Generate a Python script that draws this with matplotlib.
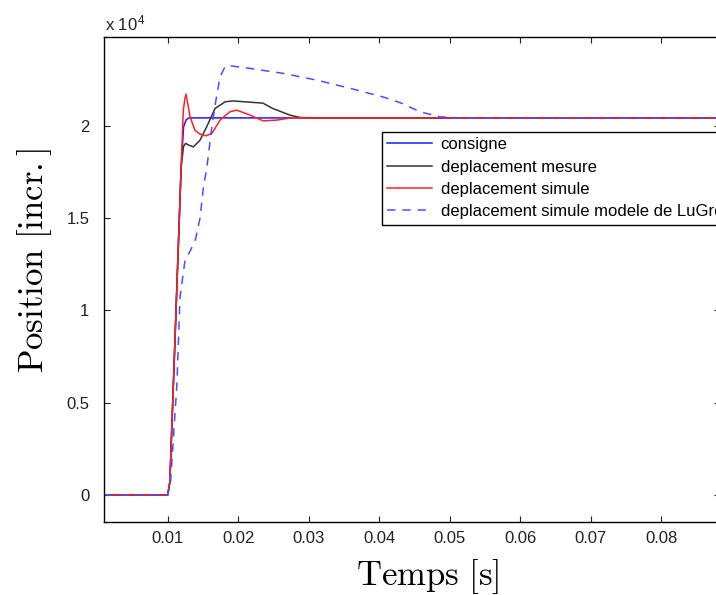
import matplotlib
matplotlib.use("Agg")
import matplotlib.pyplot as plt

plt.rcParams['font.family'] = ['Liberation Sans', 'DejaVu Sans']
plt.rcParams['mathtext.fontset'] = 'cm'

# consigne (setpoint)
t_cons = [0.001, 0.0100, 0.0103, 0.0110, 0.0119, 0.01225, 0.0126, 0.0130, 0.0885]
y_cons = [0, 0, 700, 8100, 17750, 19950, 20320, 20430, 20430]

# deplacement mesure (measured)
t_mes = [0.001, 0.0100, 0.0103, 0.0110, 0.0119, 0.01225, 0.01255, 0.0130, 0.01363,
         0.01458, 0.01553, 0.01671, 0.01813, 0.0192, 0.0210, 0.0235, 0.0249,
         0.02735, 0.0288, 0.0320, 0.0885]
y_mes = [0, 0, 700, 8100, 17750, 18900, 19050, 18950, 18860,
         19220, 19950, 20940, 21300, 21350, 21300, 21230, 20940,
         20580, 20450, 20430, 20430]

# deplacement simule (simulated)
t_sim = [0.001, 0.0100, 0.0103, 0.0110, 0.01189, 0.01221, 0.01245, 0.0126, 0.01284,
         0.01316, 0.01387, 0.01458, 0.01543, 0.01628, 0.01742, 0.0188, 0.01979,
         0.0217, 0.02352, 0.02546, 0.02777, 0.0300, 0.0885]
y_sim = [0, 0, 700, 8100, 17600, 20850, 21500, 21720, 21200,
         20500, 19750, 19550, 19460, 19600, 20310, 20760, 20850,
         20580, 20270, 20310, 20450, 20430, 20430]

# deplacement simule modele de LuGre
t_lug = [0.001, 0.0100, 0.0104, 0.0113, 0.01174, 0.01245, 0.01316, 0.01394, 0.01458,
         0.01508, 0.01557, 0.01614, 0.01671, 0.01742, 0.01813, 0.01855, 0.0217,
         0.0264, 0.0311, 0.0359, 0.0405, 0.0430, 0.0458, 0.0486, 0.0515, 0.0885]
y_lug = [0, 0, 700, 6000, 10700, 12710, 13200, 13850, 15000,
         16700, 17800, 19600, 21100, 22660, 23200, 23270, 23110,
         22840, 22480, 22030, 21570, 21250, 20760, 20490, 20430, 20430]

fig = plt.figure(figsize=(7.16, 5.95), dpi=100)
ax = fig.add_axes([104 / 716, 73.3 / 595, 616 / 716, 485 / 595])

ax.plot(t_cons, y_cons, color='#1a1aff', lw=1.1, label='consigne')
ax.plot(t_mes, y_mes, color='#333333', lw=1.1, label='deplacement mesure')
ax.plot(t_sim, y_sim, color='#ff2020', lw=1.1, label='deplacement simule')
ax.plot(t_lug, y_lug, color='#4d4dff', lw=1.1, dashes=(5.5, 4.5),
        label='deplacement simule modele de LuGre')

ax.set_xlim(0.00096, 0.08834)
ax.set_ylim(-1450, 24830)
ax.set_xticks([0.01, 0.02, 0.03, 0.04, 0.05, 0.06, 0.07, 0.08])
ax.set_xticklabels(['0.01', '0.02', '0.03', '0.04', '0.05', '0.06', '0.07', '0.08'])
ax.set_yticks([0, 5000, 10000, 15000, 20000])
ax.set_yticklabels(['0', '0.5', '1', '1.5', '2'])
ax.tick_params(direction='in', length=4.5, width=0.8, top=True, right=True,
               labelsize=12, colors='#222222')
ax.tick_params(axis='x', pad=7)
ax.tick_params(axis='y', pad=10.5)
for s in ax.spines.values():
    s.set_linewidth(1.0)

ax.set_xlabel(r'$\mathrm{Temps\ [s]}$', fontsize=25, va='baseline')
ax.xaxis.set_label_coords((427.5 - 104) / 616, (521.7 - 585) / 485)
ax.set_ylabel(r'$\mathrm{Position\ [incr.]}$', fontsize=25, va='baseline',
              rotation_mode='anchor')
ax.yaxis.set_label_coords((43.3 - 104) / 616, (521.7 - 261) / 485)

fig.text(105 / 716, 1 - 30.7 / 595, r'x 10$^{\mathregular{4}}$', fontsize=12,
         color='#222222', va='baseline')

leg = ax.legend(loc='upper left', bbox_to_anchor=(381.7 / 716, 1 - 131.7 / 595),
                bbox_transform=fig.transFigure, borderaxespad=0, fontsize=12,
                handlelength=2.7, handletextpad=0.5, borderpad=0.33,
                labelspacing=0.44, fancybox=False, framealpha=1)
leg.get_frame().set_edgecolor('black')
leg.get_frame().set_linewidth(1.0)

fig.savefig('out.png', dpi=100)
